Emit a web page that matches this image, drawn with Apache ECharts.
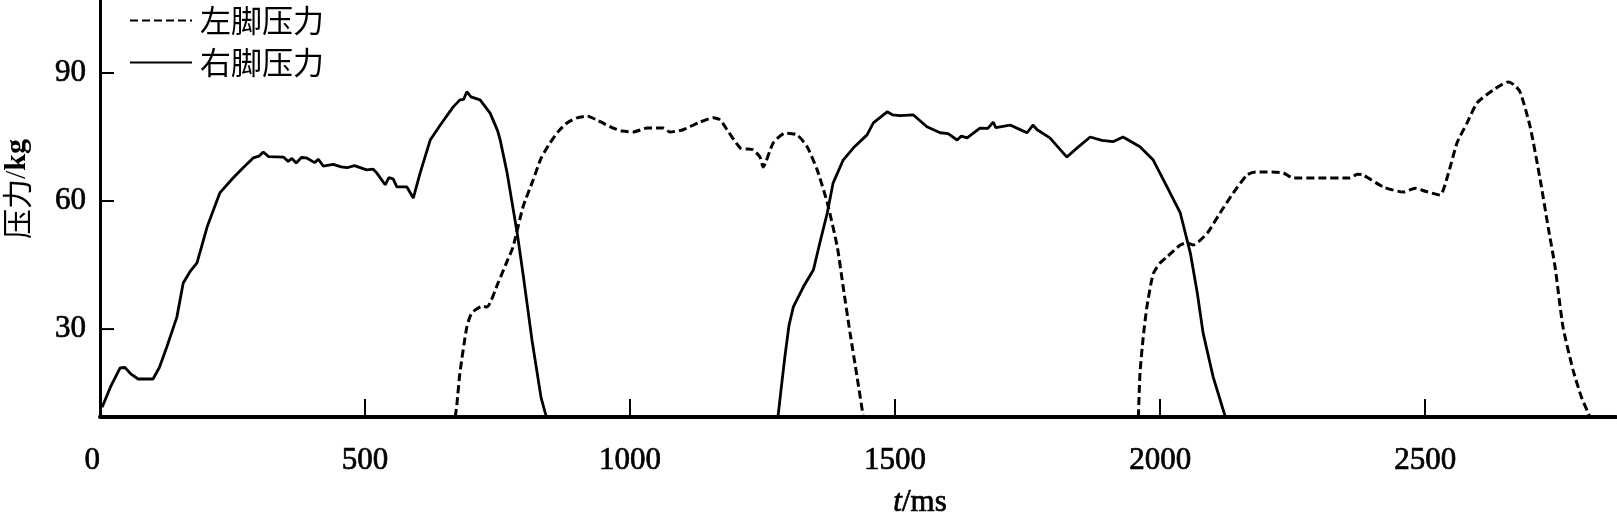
<!DOCTYPE html>
<html>
<head>
<meta charset="utf-8">
<script src="https://cdn.jsdelivr.net/npm/echarts@6/dist/echarts.min.js"></script>
<style>
html,body{margin:0;padding:0;background:#fff;}
#chart{width:1617px;height:515px;}
</style>
</head>
<body>
<div id="chart"></div>
<script>
// ---- data (time in ms, pressure in kg) ----
const seriesNames = ['左脚压力', '右脚压力'];
const timeTicks = [0, 500, 1000, 1500, 2000, 2500];
const forceTicks = [30, 60, 90];

// right foot, stance 1
const right1T = [4,20,38,47,58,72,100,112,126,145,157,170,183,202,226,251,270,289,300,308,318,346,355,362,370,380,390,405,412,421,440,455,466,480,503,515,522,538,545,553,560,579,591,604,623,642,666,679,686,692,700,717,736,750,755,768,787,798,815,832,842];
const right1V = [11.7,16.5,20.9,21.0,19.5,18.3,18.3,21,25.8,32.8,40.8,43.5,45.5,53.9,61.9,65.4,67.8,70.1,70.5,71.5,70.4,70.3,69.3,70.0,68.9,70.2,70.1,69,69.8,68.2,68.6,68.0,67.8,68.3,67.3,67.5,66.6,63.8,65.5,65.2,63.3,63.3,60.7,66.6,74.3,77.8,82.0,83.7,83.8,85.6,84.4,83.7,80.6,76.5,74.3,66.6,52.5,43.0,27.4,14,9.4];
// left foot, stance 1
const left1T = [670,673,679,692,700,708,720,730,751,765,779,798,817,832,849,866,881,900,919,940,968,985,1006,1032,1062,1075,1100,1132,1157,1170,1183,1208,1220,1232,1245,1251,1270,1292,1315,1334,1353,1372,1391,1402,1415,1428,1440];
const left1V = [9.4,12,19.7,30.5,33.5,34.5,35.3,35.2,40.8,45,49.2,58.6,64.9,70,73.6,76.5,78.3,79.5,79.9,78.8,77.1,76.4,76.2,77.1,77.1,76.2,76.7,78.5,79.5,79.0,76.7,72.4,72.2,72.0,70.3,68.0,73.6,75.9,75.5,72.7,67.3,59.6,49.2,39.9,29.1,19,9.4];
// right foot, stance 2
const right2T = [1279,1285,1292,1300,1308,1327,1346,1358,1372,1383,1402,1421,1447,1459,1466,1485,1495,1509,1534,1560,1585,1600,1617,1625,1636,1660,1675,1685,1690,1717,1740,1749,1760,1768,1792,1824,1843,1868,1890,1911,1930,1962,1987,2013,2038,2057,2070,2081,2100,2123];
const right2V = [9.4,16,23.5,31,35.2,39.9,43.9,50.2,57.2,64.2,69.6,72.4,75.5,78.3,79.0,80.9,80.2,80.0,80.2,77.4,76.0,75.8,74.3,75.2,74.8,77.1,77.0,78.5,77.2,77.8,76.5,76.0,77.8,76.7,74.8,70.3,72.4,75.0,74.2,73.9,75.0,72.7,69.6,63.3,57.2,47.8,38.5,29.1,18.8,9.4];
// left foot, stance 2
const left2T = [1959,1962,1968,1975,1987,2000,2013,2038,2050,2062,2089,2113,2138,2164,2180,2202,2232,2251,2300,2358,2372,2383,2421,2459,2481,2500,2528,2544,2560,2579,2598,2628,2657,2668,2679,2698,2717,2732,2745,2760,2779,2795,2811];
const left2V = [9.4,19.7,28,35.2,43.0,45.5,46.9,49.7,50.2,49.7,52.5,57.2,61.9,66.1,66.8,66.8,66.6,65.4,65.4,65.4,66.3,66.1,63.3,62.1,63.0,62.3,61.4,66.6,73.6,78.3,83.0,86.0,87.9,87.2,85.6,77.4,65.0,53.9,44.6,30.5,20.4,14,9.4];

function pairs(t, v) { return t.map((x, i) => [x, v[i]]); }

const serif = '"Liberation Serif","Times New Roman",serif';
const cjk = '"Noto Sans CJK SC",sans-serif';

const dashedStyle = { color: '#000', width: 3, type: [8, 4] };
const solidStyle = { color: '#000', width: 2.8, type: 'solid' };
const numLabel = {
  color: '#000', fontFamily: serif, fontSize: 31,
  textBorderColor: '#000', textBorderWidth: 0.7,
  formatter: v => String(v)
};

const textGraphics = [
  {
    id: 'xname', type: 'text', x: 920, y: 503,
    style: {
      text: '{i|t}{n|/ms}', align: 'center', verticalAlign: 'middle',
      fill: '#000', stroke: '#000', lineWidth: 0.7, fontFamily: serif, fontSize: 31,
      rich: {
        i: { fontStyle: 'italic', fontFamily: serif, fontSize: 31 },
        n: { fontFamily: serif, fontSize: 31 }
      }
    }
  },
  {
    id: 'yname', type: 'text', x: 17, y: 189, rotation: Math.PI / 2,
    style: {
      text: '{c|压力}{n|/}{b|kg}', align: 'center', verticalAlign: 'middle', fill: '#000',
      rich: {
        c: { fontFamily: cjk, fontSize: 30 },
        n: { fontFamily: serif, fontSize: 30 },
        b: { fontFamily: serif, fontSize: 30, fontWeight: 'bold' }
      }
    }
  }
];

const chart = echarts.init(document.getElementById('chart'), null, { renderer: 'canvas' });
chart.setOption({
  animation: false,
  backgroundColor: '#fff',
  color: ['#000', '#000'],
  grid: { left: 100, right: 1, top: 0, bottom: 98, containLabel: false, outerBoundsMode: 'none' },
  legend: {
    orient: 'vertical', left: 124, top: 0,
    itemWidth: 62, itemHeight: 14, itemGap: 11,
    data: seriesNames,
    itemStyle: { opacity: 0 },
    textStyle: { fontFamily: cjk, fontSize: 31, color: '#000', padding: [0, 0, 0, 3] }
  },
  xAxis: {
    type: 'value', min: 0, max: 2860,
    axisLine: { show: true, onZero: false, lineStyle: { color: '#000', width: 4 } },
    axisTick: { show: true, inside: true, length: 18, lineStyle: { color: '#000', width: 2 }, customValues: timeTicks },
    axisLabel: Object.assign({ customValues: timeTicks, margin: 28, alignMinLabel: 'right' }, numLabel),
    splitLine: { show: false }
  },
  yAxis: {
    type: 'value', min: 9.4, max: 107.1,
    axisLine: { show: true, onZero: false, lineStyle: { color: '#000', width: 3 } },
    axisTick: { show: false },
    axisLabel: Object.assign({ customValues: forceTicks, margin: 14 }, numLabel),
    splitLine: { show: false }
  },
  graphic: textGraphics,
  series: [
    { name: seriesNames[0], type: 'line', symbol: 'none', smooth: 0.2, lineStyle: dashedStyle, itemStyle: { color: '#000' }, data: pairs(left1T, left1V) },
    { name: seriesNames[1], type: 'line', symbol: 'none', smooth: false, lineStyle: solidStyle, itemStyle: { color: '#000' }, data: pairs(right1T, right1V) },
    { name: seriesNames[0], type: 'line', symbol: 'none', smooth: 0.2, lineStyle: dashedStyle, itemStyle: { color: '#000' }, data: pairs(left2T, left2V) },
    { name: seriesNames[1], type: 'line', symbol: 'none', smooth: false, lineStyle: solidStyle, itemStyle: { color: '#000' }, data: pairs(right2T, right2V) }
  ]
});

// y-axis tick marks at 30/60/90, placed through the grid's scales (inside, pointing right)
const tickGraphics = forceTicks.map((v, i) => {
  const p = chart.convertToPixel({ gridIndex: 0 }, [0, v]);
  return {
    id: 'ytick' + i, type: 'rect', z: 100,
    shape: { x: p[0], y: p[1] - 1, width: 14, height: 2 },
    style: { fill: '#000' }
  };
});
chart.setOption({ graphic: textGraphics.concat(tickGraphics) });
</script>
</body>
</html>
